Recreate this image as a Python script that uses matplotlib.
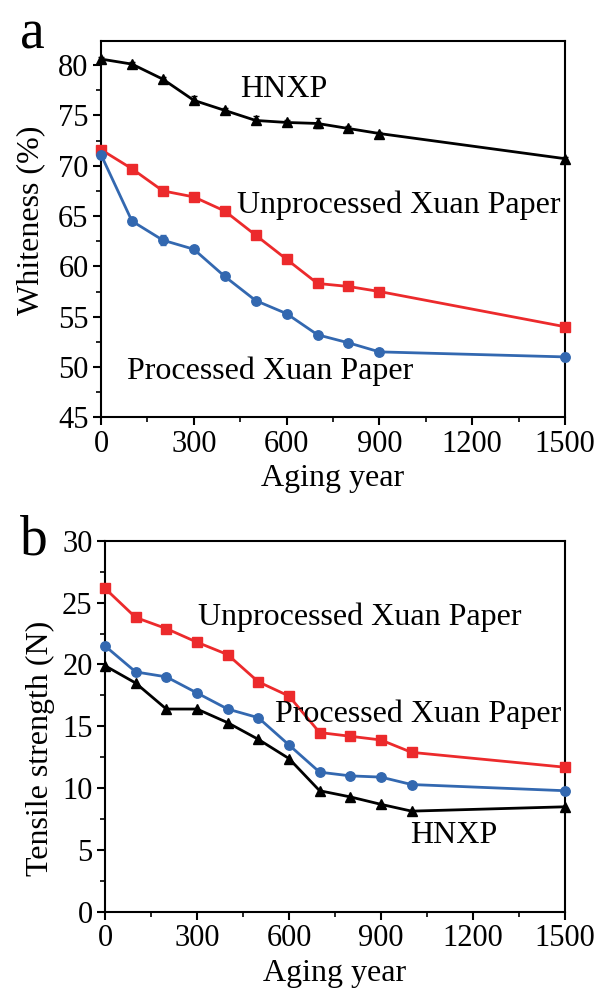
import matplotlib.pyplot as plt
from matplotlib.ticker import MultipleLocator

plt.rcParams['font.family'] = ['Liberation Serif', 'DejaVu Serif']

# panel a: whiteness
years_a = [0, 100, 200, 300, 400, 500, 600, 700, 800, 900, 1500]
hnxp_a = [80.6, 80.1, 78.6, 76.5, 75.5, 74.5, 74.3, 74.2, 73.7, 73.2, 70.7]
hnxp_a_err = [0.2, 0.2, 0.2, 0.4, 0.2, 0.4, 0.2, 0.5, 0.2, 0.2, 0.2]
unproc_a = [71.6, 69.7, 67.5, 66.9, 65.5, 63.1, 60.7, 58.3, 58.0, 57.5, 54.0]
unproc_a_err = [0.2, 0.2, 0.2, 0.2, 0.2, 0.2, 0.2, 0.2, 0.2, 0.2, 0.2]
proc_a = [71.1, 64.5, 62.6, 61.7, 59.0, 56.6, 55.3, 53.2, 52.4, 51.5, 51.0]
proc_a_err = [0.2, 0.2, 0.5, 0.2, 0.2, 0.3, 0.2, 0.2, 0.2, 0.2, 0.4]

# panel b: tensile strength
years_b = [0, 100, 200, 300, 400, 500, 600, 700, 800, 900, 1000, 1500]
unproc_b = [26.15, 23.8, 22.9, 21.8, 20.8, 18.6, 17.45, 14.5, 14.2, 13.9, 12.9, 11.7]
proc_b = [21.5, 19.4, 19.0, 17.7, 16.4, 15.7, 13.5, 11.3, 11.0, 10.9, 10.3, 9.8]
hnxp_b = [19.9, 18.5, 16.4, 16.4, 15.3, 13.95, 12.4, 9.8, 9.3, 8.7, 8.15, 8.5]

red = '#ec2a2c'
blue = '#3368b0'
fs = 22    # tick labels
fl = 23    # axis labels and annotations

fig = plt.figure(figsize=(5.98, 9.94), dpi=100)
ax1 = fig.add_axes([0.1689, 0.5802, 0.7759, 0.3786])
ax2 = fig.add_axes([0.1756, 0.0825, 0.769, 0.3735])


def style(ax):
    for s in ax.spines.values():
        s.set_linewidth(1.5)
    ax.xaxis.set_major_locator(MultipleLocator(300))
    ax.xaxis.set_minor_locator(MultipleLocator(150))
    ax.tick_params(which='major', direction='out', length=6, width=1.5, labelsize=fs, pad=3)
    ax.tick_params(which='minor', direction='out', length=3.5, width=1.2)
    ax.set_xlim(0, 1500)
    ax.set_xlabel('Aging year', fontsize=fl, labelpad=4)


kw = dict(lw=2.0, ms=6.8, capsize=2.5, elinewidth=1.0, clip_on=False, zorder=3)
ax1.errorbar(years_a, hnxp_a, yerr=hnxp_a_err, color='black', marker='^', **kw)
ax1.errorbar(years_a, unproc_a, yerr=unproc_a_err, color=red, marker='s', **kw)
ax1.errorbar(years_a, proc_a, yerr=proc_a_err, color=blue, marker='o', **kw)
style(ax1)
ax1.set_ylim(45, 82.4)
ax1.yaxis.set_major_locator(MultipleLocator(5))
ax1.yaxis.set_minor_locator(MultipleLocator(2.5))
ax1.set_ylabel('Whiteness (%)', fontsize=fl, va='center')
ax1.yaxis.set_label_coords(-0.151, 0.524)
ax1.text(450, 77.6, 'HNXP', fontsize=fl, va='center')
ax1.text(440, 66.1, 'Unprocessed Xuan Paper', fontsize=fl, va='center')
ax1.text(84, 49.6, 'Processed Xuan Paper', fontsize=fl, va='center')

kw2 = dict(lw=2.0, ms=6.8, clip_on=False, zorder=3)
ax2.plot(years_b, unproc_b, color=red, marker='s', **kw2)
ax2.plot(years_b, proc_b, color=blue, marker='o', **kw2)
ax2.plot(years_b, hnxp_b, color='black', marker='^', **kw2)
style(ax2)
ax2.set_ylim(0, 30)
ax2.yaxis.set_major_locator(MultipleLocator(5))
ax2.yaxis.set_minor_locator(MultipleLocator(2.5))
ax2.set_ylabel('Tensile strength (N)', fontsize=fl, va='center')
ax2.yaxis.set_label_coords(-0.14, 0.44)
ax2.text(303, 23.8, 'Unprocessed Xuan Paper', fontsize=fl, va='center')
ax2.text(554, 16.0, 'Processed Xuan Paper', fontsize=fl, va='center')
ax2.text(995, 6.2, 'HNXP', fontsize=fl, va='center')

fig.text(0.033, 0.965, 'a', fontsize=40, va='center')
fig.text(0.033, 0.456, 'b', fontsize=40, va='center')

fig.savefig('out.png', dpi=100)
